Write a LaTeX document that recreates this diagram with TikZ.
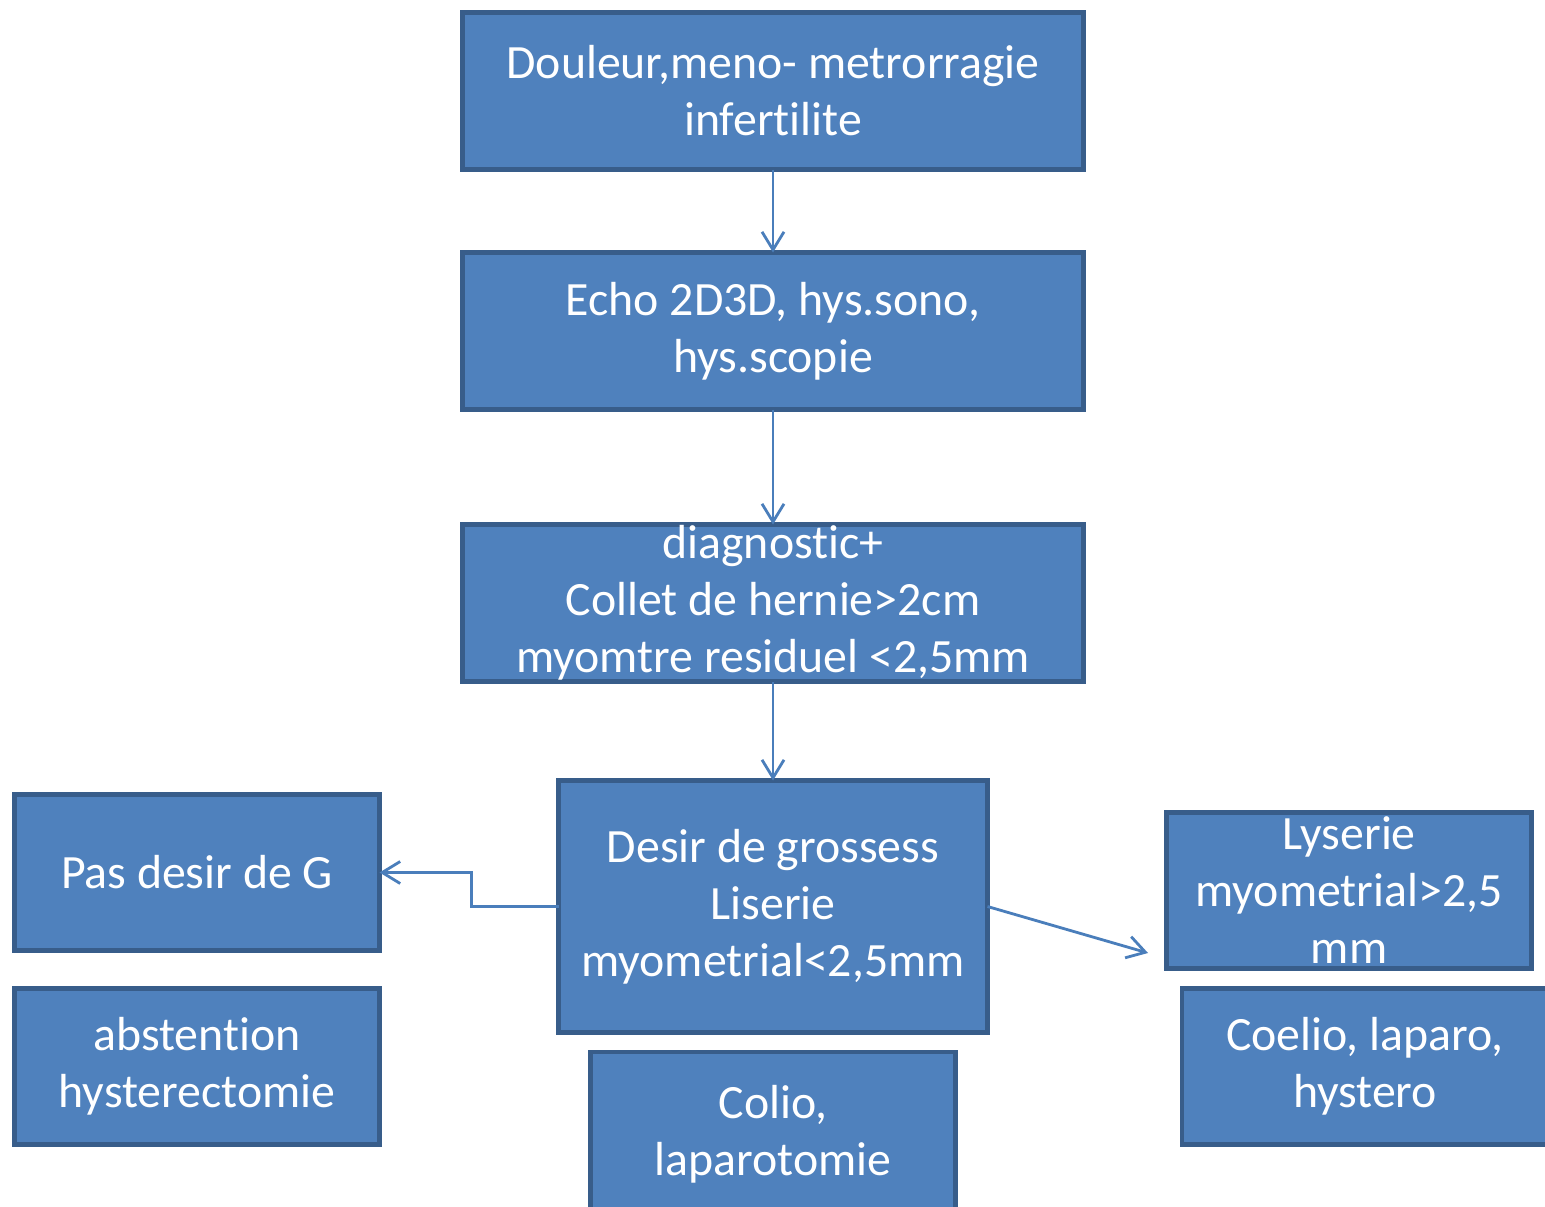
\documentclass[tikz,border=0pt]{standalone}
\usepackage{fontspec}
\setmainfont[Ligatures=NoCommon]{Carlito}
\usetikzlibrary{arrows.meta}
\definecolor{boxfill}{HTML}{4F81BD}
\definecolor{boxline}{HTML}{385D8A}
\definecolor{arrowc}{HTML}{4A7EBB}
\tikzset{
  box/.style={draw=boxline, fill=boxfill, line width=4.5pt, text=white,
    align=center, inner sep=0pt, outer sep=0pt,
    font=\fontsize{47.8}{57}\selectfont},
  conn/.style={draw=arrowc, line width=2.8pt,
    -{Straight Barb[length=18pt,width=22pt,line width=2.8pt]}}
}
\begin{document}
\begin{tikzpicture}[x=1pt,y=-1pt]
\useasboundingbox (0,0) rectangle (1545,1207);
\node[box, minimum width=621pt, minimum height=157pt] (b1) at (773,91) {Douleur,meno- metrorragie\\infertilite};
\node[box, minimum width=621pt, minimum height=157pt] (b2) at (773,331) {Echo 2D3D, hys.sono,\\hys.scopie};
\node[box, minimum width=621pt, minimum height=157pt] (b3) at (773,603) {diagnostic+\\Collet de hernie>2cm\\myomtre residuel <2,5mm};
\node[box, minimum width=429pt, minimum height=252pt] (b4) at (773,906.5) {Desir de grossess\\Liserie\\myometrial<2,5mm};
\node[box, minimum width=365pt, minimum height=156pt] (b5) at (197,872.5) {Pas desir de G};
\node[box, minimum width=365pt, minimum height=156pt] (b6) at (197,1066.5) {abstention\\hysterectomie};
\node[box, minimum width=365pt, minimum height=165pt] (b7) at (773,1134.5) {Colio,\\laparotomie};
\node[box, minimum width=365pt, minimum height=156pt] (b8) at (1349,890.5) {Lyserie\\myometrial>2,5\\mm};
\node[box, minimum width=380pt, minimum height=156pt] (b9) at (1372,1066.5) {Coelio, laparo,\hspace*{14pt}\\hystero\hspace*{14pt}};
\coordinate (r) at (1148,953);
\draw[conn] (b1) -- (b2);
\draw[conn] (b2) -- (b3);
\draw[conn] (b3) -- (b4);
\draw[conn] (b4.west) -- ++(-87,0) |- (b5.east);
\draw[conn] (b4.east) -- (r);
\end{tikzpicture}
\end{document}
